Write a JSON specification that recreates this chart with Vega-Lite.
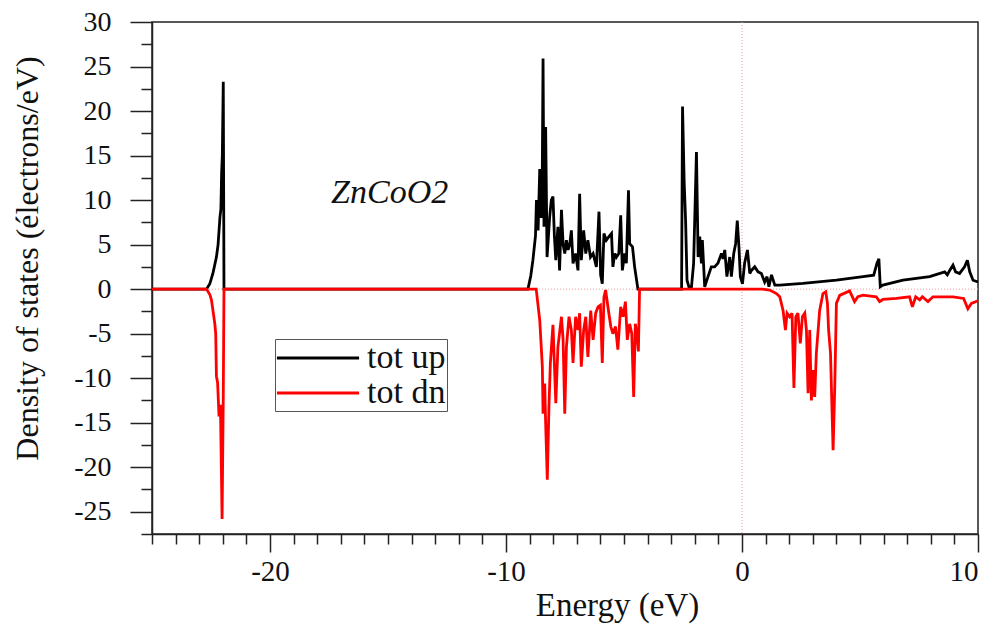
{
  "$schema": "https://vega.github.io/schema/vega-lite/v6.json",
  "width": 826,
  "height": 512,
  "autosize": {"type": "none"},
  "padding": {"left": 152, "top": 22, "right": 20, "bottom": 92},
  "background": "white",
  "config": {
    "font": "Liberation Serif",
    "view": {"stroke": "#222", "strokeWidth": 1.5},
    "axis": {
      "domainColor": "#222", "domainWidth": 1.5, "tickColor": "#222", "tickWidth": 1.5,
      "labelFont": "Liberation Serif", "labelFontSize": 28, "labelColor": "#111",
      "titleFont": "Liberation Serif", "titleFontSize": 31, "titleFontWeight": "normal", "titleColor": "#111",
      "grid": false
    },
    "legend": {
      "orient": "none", "legendX": 123, "legendY": 317,
      "strokeColor": "#555", "padding": 1,
      "symbolType": "M-2.49,0H2.49", "symbolSize": 1089, "symbolStrokeWidth": 3,
      "symbolOffset": 24, "labelOffset": 31,
      "labelFont": "Liberation Serif", "labelFontSize": 34, "labelColor": "#111",
      "rowPadding": 0
    }
  },
  "datasets": {
    "dos": [
      {"E": -25, "dos": 0, "spin": "tot up"},
      {"E": -22.69, "dos": 0, "spin": "tot up"},
      {"E": -22.55, "dos": 0.6, "spin": "tot up"},
      {"E": -22.42, "dos": 1.76, "spin": "tot up"},
      {"E": -22.27, "dos": 3.6, "spin": "tot up"},
      {"E": -22.2, "dos": 5, "spin": "tot up"},
      {"E": -22.12, "dos": 8.1, "spin": "tot up"},
      {"E": -22.08, "dos": 9, "spin": "tot up"},
      {"E": -22.05, "dos": 13, "spin": "tot up"},
      {"E": -22.02, "dos": 15, "spin": "tot up"},
      {"E": -21.98, "dos": 23.3, "spin": "tot up"},
      {"E": -21.95, "dos": 0, "spin": "tot up"},
      {"E": -9.07, "dos": 0, "spin": "tot up"},
      {"E": -8.95, "dos": 1.5, "spin": "tot up"},
      {"E": -8.86, "dos": 3.25, "spin": "tot up"},
      {"E": -8.75, "dos": 6, "spin": "tot up"},
      {"E": -8.71, "dos": 10, "spin": "tot up"},
      {"E": -8.64, "dos": 6.6, "spin": "tot up"},
      {"E": -8.57, "dos": 13.5, "spin": "tot up"},
      {"E": -8.51, "dos": 8, "spin": "tot up"},
      {"E": -8.47, "dos": 10, "spin": "tot up"},
      {"E": -8.43, "dos": 25.9, "spin": "tot up"},
      {"E": -8.39, "dos": 7, "spin": "tot up"},
      {"E": -8.32, "dos": 18.2, "spin": "tot up"},
      {"E": -8.26, "dos": 3.6, "spin": "tot up"},
      {"E": -8.2, "dos": 6, "spin": "tot up"},
      {"E": -8.15, "dos": 8.1, "spin": "tot up"},
      {"E": -8.08, "dos": 10, "spin": "tot up"},
      {"E": -8.01, "dos": 10.4, "spin": "tot up"},
      {"E": -7.95, "dos": 6, "spin": "tot up"},
      {"E": -7.89, "dos": 3.25, "spin": "tot up"},
      {"E": -7.8, "dos": 7, "spin": "tot up"},
      {"E": -7.73, "dos": 2.1, "spin": "tot up"},
      {"E": -7.65, "dos": 8.9, "spin": "tot up"},
      {"E": -7.58, "dos": 5, "spin": "tot up"},
      {"E": -7.51, "dos": 4, "spin": "tot up"},
      {"E": -7.44, "dos": 5.5, "spin": "tot up"},
      {"E": -7.37, "dos": 4.4, "spin": "tot up"},
      {"E": -7.3, "dos": 5, "spin": "tot up"},
      {"E": -7.23, "dos": 6.6, "spin": "tot up"},
      {"E": -7.16, "dos": 2.9, "spin": "tot up"},
      {"E": -7.05, "dos": 4, "spin": "tot up"},
      {"E": -6.95, "dos": 2.1, "spin": "tot up"},
      {"E": -6.88, "dos": 10.7, "spin": "tot up"},
      {"E": -6.81, "dos": 3.25, "spin": "tot up"},
      {"E": -6.71, "dos": 6.6, "spin": "tot up"},
      {"E": -6.62, "dos": 4, "spin": "tot up"},
      {"E": -6.53, "dos": 5.5, "spin": "tot up"},
      {"E": -6.42, "dos": 3.6, "spin": "tot up"},
      {"E": -6.31, "dos": 4, "spin": "tot up"},
      {"E": -6.17, "dos": 2.5, "spin": "tot up"},
      {"E": -6.06, "dos": 8.7, "spin": "tot up"},
      {"E": -5.99, "dos": 1.6, "spin": "tot up"},
      {"E": -5.92, "dos": 0.6, "spin": "tot up"},
      {"E": -5.85, "dos": 6.25, "spin": "tot up"},
      {"E": -5.75, "dos": 5.5, "spin": "tot up"},
      {"E": -5.64, "dos": 5.9, "spin": "tot up"},
      {"E": -5.53, "dos": 6.25, "spin": "tot up"},
      {"E": -5.47, "dos": 2.5, "spin": "tot up"},
      {"E": -5.39, "dos": 4, "spin": "tot up"},
      {"E": -5.32, "dos": 3.6, "spin": "tot up"},
      {"E": -5.22, "dos": 4, "spin": "tot up"},
      {"E": -5.14, "dos": 8.3, "spin": "tot up"},
      {"E": -5.07, "dos": 2.1, "spin": "tot up"},
      {"E": -4.97, "dos": 4, "spin": "tot up"},
      {"E": -4.9, "dos": 2.9, "spin": "tot up"},
      {"E": -4.81, "dos": 11.1, "spin": "tot up"},
      {"E": -4.76, "dos": 5.1, "spin": "tot up"},
      {"E": -4.64, "dos": 4.75, "spin": "tot up"},
      {"E": -4.55, "dos": 2.5, "spin": "tot up"},
      {"E": -4.41, "dos": 0, "spin": "tot up"},
      {"E": -2.56, "dos": 0, "spin": "tot up"},
      {"E": -2.52, "dos": 20.5, "spin": "tot up"},
      {"E": -2.45, "dos": 12, "spin": "tot up"},
      {"E": -2.39, "dos": 7.7, "spin": "tot up"},
      {"E": -2.33, "dos": 1, "spin": "tot up"},
      {"E": -2.25, "dos": 0.26, "spin": "tot up"},
      {"E": -2.14, "dos": 0.26, "spin": "tot up"},
      {"E": -2.05, "dos": 2.9, "spin": "tot up"},
      {"E": -1.93, "dos": 15.4, "spin": "tot up"},
      {"E": -1.86, "dos": 3.6, "spin": "tot up"},
      {"E": -1.79, "dos": 5.9, "spin": "tot up"},
      {"E": -1.72, "dos": 2.9, "spin": "tot up"},
      {"E": -1.68, "dos": 5.5, "spin": "tot up"},
      {"E": -1.58, "dos": 0.26, "spin": "tot up"},
      {"E": -1.44, "dos": 1.4, "spin": "tot up"},
      {"E": -1.3, "dos": 2.5, "spin": "tot up"},
      {"E": -1.16, "dos": 2.5, "spin": "tot up"},
      {"E": -1.02, "dos": 2.9, "spin": "tot up"},
      {"E": -0.87, "dos": 4, "spin": "tot up"},
      {"E": -0.8, "dos": 3.4, "spin": "tot up"},
      {"E": -0.73, "dos": 4.4, "spin": "tot up"},
      {"E": -0.64, "dos": 1.4, "spin": "tot up"},
      {"E": -0.52, "dos": 3.6, "spin": "tot up"},
      {"E": -0.45, "dos": 1.4, "spin": "tot up"},
      {"E": -0.35, "dos": 4, "spin": "tot up"},
      {"E": -0.27, "dos": 5.1, "spin": "tot up"},
      {"E": -0.2, "dos": 7.7, "spin": "tot up"},
      {"E": -0.13, "dos": 4.75, "spin": "tot up"},
      {"E": -0.07, "dos": 1.4, "spin": "tot up"},
      {"E": 0.02, "dos": 0.6, "spin": "tot up"},
      {"E": 0.11, "dos": 2.9, "spin": "tot up"},
      {"E": 0.23, "dos": 4.4, "spin": "tot up"},
      {"E": 0.33, "dos": 1.76, "spin": "tot up"},
      {"E": 0.4, "dos": 2.1, "spin": "tot up"},
      {"E": 0.54, "dos": 2.5, "spin": "tot up"},
      {"E": 0.68, "dos": 1.94, "spin": "tot up"},
      {"E": 0.82, "dos": 1.76, "spin": "tot up"},
      {"E": 0.96, "dos": 0.8, "spin": "tot up"},
      {"E": 1.06, "dos": 1.4, "spin": "tot up"},
      {"E": 1.14, "dos": 0.26, "spin": "tot up"},
      {"E": 1.25, "dos": 1.6, "spin": "tot up"},
      {"E": 1.39, "dos": 0.45, "spin": "tot up"},
      {"E": 1.6, "dos": 0.45, "spin": "tot up"},
      {"E": 2.58, "dos": 0.64, "spin": "tot up"},
      {"E": 4.0, "dos": 1.0, "spin": "tot up"},
      {"E": 5.13, "dos": 1.4, "spin": "tot up"},
      {"E": 5.58, "dos": 1.57, "spin": "tot up"},
      {"E": 5.72, "dos": 2.9, "spin": "tot up"},
      {"E": 5.8, "dos": 3.4, "spin": "tot up"},
      {"E": 5.86, "dos": 0.26, "spin": "tot up"},
      {"E": 5.97, "dos": 0.45, "spin": "tot up"},
      {"E": 6.82, "dos": 1.0, "spin": "tot up"},
      {"E": 7.95, "dos": 1.4, "spin": "tot up"},
      {"E": 8.59, "dos": 1.94, "spin": "tot up"},
      {"E": 8.7, "dos": 1.6, "spin": "tot up"},
      {"E": 8.8, "dos": 2.1, "spin": "tot up"},
      {"E": 8.94, "dos": 2.7, "spin": "tot up"},
      {"E": 9.05, "dos": 1.94, "spin": "tot up"},
      {"E": 9.22, "dos": 1.76, "spin": "tot up"},
      {"E": 9.43, "dos": 2.5, "spin": "tot up"},
      {"E": 9.55, "dos": 3.25, "spin": "tot up"},
      {"E": 9.65, "dos": 1.94, "spin": "tot up"},
      {"E": 9.79, "dos": 1.0, "spin": "tot up"},
      {"E": 10, "dos": 0.8, "spin": "tot up"},

      {"E": -25, "dos": 0, "spin": "tot dn"},
      {"E": -22.69, "dos": 0, "spin": "tot dn"},
      {"E": -22.55, "dos": -0.6, "spin": "tot dn"},
      {"E": -22.48, "dos": -1.23, "spin": "tot dn"},
      {"E": -22.34, "dos": -3.85, "spin": "tot dn"},
      {"E": -22.3, "dos": -5, "spin": "tot dn"},
      {"E": -22.27, "dos": -9.8, "spin": "tot dn"},
      {"E": -22.22, "dos": -10.5, "spin": "tot dn"},
      {"E": -22.16, "dos": -14.3, "spin": "tot dn"},
      {"E": -22.1, "dos": -13, "spin": "tot dn"},
      {"E": -22.03, "dos": -25.8, "spin": "tot dn"},
      {"E": -21.98, "dos": -12, "spin": "tot dn"},
      {"E": -21.95, "dos": 0, "spin": "tot dn"},
      {"E": -8.72, "dos": 0, "spin": "tot dn"},
      {"E": -8.57, "dos": -3.5, "spin": "tot dn"},
      {"E": -8.46, "dos": -8.7, "spin": "tot dn"},
      {"E": -8.43, "dos": -14, "spin": "tot dn"},
      {"E": -8.36, "dos": -10.6, "spin": "tot dn"},
      {"E": -8.32, "dos": -15.1, "spin": "tot dn"},
      {"E": -8.25, "dos": -21.4, "spin": "tot dn"},
      {"E": -8.18, "dos": -13.2, "spin": "tot dn"},
      {"E": -8.12, "dos": -8.3, "spin": "tot dn"},
      {"E": -8.01, "dos": -4, "spin": "tot dn"},
      {"E": -7.89, "dos": -12.8, "spin": "tot dn"},
      {"E": -7.8, "dos": -6.5, "spin": "tot dn"},
      {"E": -7.65, "dos": -3.1, "spin": "tot dn"},
      {"E": -7.58, "dos": -5.7, "spin": "tot dn"},
      {"E": -7.51, "dos": -14, "spin": "tot dn"},
      {"E": -7.44, "dos": -6.5, "spin": "tot dn"},
      {"E": -7.33, "dos": -3.1, "spin": "tot dn"},
      {"E": -7.23, "dos": -4.6, "spin": "tot dn"},
      {"E": -7.16, "dos": -8.3, "spin": "tot dn"},
      {"E": -7.05, "dos": -3.1, "spin": "tot dn"},
      {"E": -6.95, "dos": -4.6, "spin": "tot dn"},
      {"E": -6.88, "dos": -2.7, "spin": "tot dn"},
      {"E": -6.81, "dos": -8.7, "spin": "tot dn"},
      {"E": -6.71, "dos": -4.6, "spin": "tot dn"},
      {"E": -6.62, "dos": -3.1, "spin": "tot dn"},
      {"E": -6.53, "dos": -7.6, "spin": "tot dn"},
      {"E": -6.41, "dos": -2.4, "spin": "tot dn"},
      {"E": -6.31, "dos": -5.7, "spin": "tot dn"},
      {"E": -6.2, "dos": -2.7, "spin": "tot dn"},
      {"E": -6.1, "dos": -2, "spin": "tot dn"},
      {"E": -6, "dos": -1.8, "spin": "tot dn"},
      {"E": -5.92, "dos": -8.3, "spin": "tot dn"},
      {"E": -5.85, "dos": -0.9, "spin": "tot dn"},
      {"E": -5.78, "dos": -0.1, "spin": "tot dn"},
      {"E": -5.68, "dos": -2, "spin": "tot dn"},
      {"E": -5.56, "dos": -4.2, "spin": "tot dn"},
      {"E": -5.47, "dos": -5, "spin": "tot dn"},
      {"E": -5.36, "dos": -4.2, "spin": "tot dn"},
      {"E": -5.26, "dos": -6.8, "spin": "tot dn"},
      {"E": -5.14, "dos": -2, "spin": "tot dn"},
      {"E": -5.04, "dos": -3.1, "spin": "tot dn"},
      {"E": -4.94, "dos": -1.4, "spin": "tot dn"},
      {"E": -4.86, "dos": -5.7, "spin": "tot dn"},
      {"E": -4.76, "dos": -3.9, "spin": "tot dn"},
      {"E": -4.67, "dos": -5, "spin": "tot dn"},
      {"E": -4.59, "dos": -12.1, "spin": "tot dn"},
      {"E": -4.52, "dos": -3.9, "spin": "tot dn"},
      {"E": -4.45, "dos": -5, "spin": "tot dn"},
      {"E": -4.39, "dos": -7, "spin": "tot dn"},
      {"E": -4.34, "dos": 0, "spin": "tot dn"},
      {"E": 0.87, "dos": 0, "spin": "tot dn"},
      {"E": 1.17, "dos": -0.1, "spin": "tot dn"},
      {"E": 1.46, "dos": -0.5, "spin": "tot dn"},
      {"E": 1.6, "dos": -0.86, "spin": "tot dn"},
      {"E": 1.74, "dos": -2.4, "spin": "tot dn"},
      {"E": 1.84, "dos": -4.6, "spin": "tot dn"},
      {"E": 1.91, "dos": -2.7, "spin": "tot dn"},
      {"E": 2.02, "dos": -3.1, "spin": "tot dn"},
      {"E": 2.12, "dos": -2.7, "spin": "tot dn"},
      {"E": 2.2, "dos": -11.1, "spin": "tot dn"},
      {"E": 2.28, "dos": -3.1, "spin": "tot dn"},
      {"E": 2.37, "dos": -2.7, "spin": "tot dn"},
      {"E": 2.47, "dos": -6.1, "spin": "tot dn"},
      {"E": 2.56, "dos": -3.1, "spin": "tot dn"},
      {"E": 2.66, "dos": -2.7, "spin": "tot dn"},
      {"E": 2.73, "dos": -4.6, "spin": "tot dn"},
      {"E": 2.8, "dos": -11.7, "spin": "tot dn"},
      {"E": 2.87, "dos": -4.6, "spin": "tot dn"},
      {"E": 2.94, "dos": -12.5, "spin": "tot dn"},
      {"E": 3.01, "dos": -9.1, "spin": "tot dn"},
      {"E": 3.08, "dos": -12.1, "spin": "tot dn"},
      {"E": 3.15, "dos": -7.2, "spin": "tot dn"},
      {"E": 3.29, "dos": -2.4, "spin": "tot dn"},
      {"E": 3.43, "dos": -0.5, "spin": "tot dn"},
      {"E": 3.55, "dos": -0.3, "spin": "tot dn"},
      {"E": 3.62, "dos": -1.6, "spin": "tot dn"},
      {"E": 3.67, "dos": -4.6, "spin": "tot dn"},
      {"E": 3.75, "dos": -7.2, "spin": "tot dn"},
      {"E": 3.86, "dos": -18.1, "spin": "tot dn"},
      {"E": 3.93, "dos": -11, "spin": "tot dn"},
      {"E": 4.0, "dos": -1.6, "spin": "tot dn"},
      {"E": 4.14, "dos": -0.7, "spin": "tot dn"},
      {"E": 4.56, "dos": -0.2, "spin": "tot dn"},
      {"E": 4.77, "dos": -1.4, "spin": "tot dn"},
      {"E": 4.91, "dos": -0.86, "spin": "tot dn"},
      {"E": 5.13, "dos": -0.67, "spin": "tot dn"},
      {"E": 5.69, "dos": -0.86, "spin": "tot dn"},
      {"E": 5.83, "dos": -1.4, "spin": "tot dn"},
      {"E": 5.97, "dos": -1.16, "spin": "tot dn"},
      {"E": 6.54, "dos": -1.05, "spin": "tot dn"},
      {"E": 7.1, "dos": -0.86, "spin": "tot dn"},
      {"E": 7.22, "dos": -2, "spin": "tot dn"},
      {"E": 7.36, "dos": -0.86, "spin": "tot dn"},
      {"E": 7.53, "dos": -1.2, "spin": "tot dn"},
      {"E": 7.64, "dos": -0.86, "spin": "tot dn"},
      {"E": 7.88, "dos": -1.4, "spin": "tot dn"},
      {"E": 8.09, "dos": -0.86, "spin": "tot dn"},
      {"E": 8.94, "dos": -0.86, "spin": "tot dn"},
      {"E": 9.39, "dos": -1.05, "spin": "tot dn"},
      {"E": 9.57, "dos": -2.2, "spin": "tot dn"},
      {"E": 9.72, "dos": -1.6, "spin": "tot dn"},
      {"E": 10, "dos": -1.3, "spin": "tot dn"}
    ]
  },
  "data": {"name": "dos"},
  "resolve": {"axis": {"x": "independent", "y": "independent"}},
  "layer": [
    {
      "data": {"values": [{}]},
      "mark": {"type": "rule", "color": "#f29a9a", "strokeDash": [1, 2], "strokeWidth": 1},
      "encoding": {
        "y": {"datum": 0, "type": "quantitative",
          "scale": {"domain": [-27.5, 30], "nice": false, "zero": false},
          "axis": {"orient": "left", "values": [-27.5, -22.5, -17.5, -12.5, -7.5, -2.5, 2.5, 7.5, 12.5, 17.5, 22.5, 27.5], "tickSize": 11, "labels": false, "domain": false, "title": null}}
      }
    },
    {
      "data": {"values": [{}]},
      "mark": {"type": "rule", "color": "#f29a9a", "strokeDash": [1, 2], "strokeWidth": 1},
      "encoding": {
        "x": {"datum": 0, "type": "quantitative",
          "scale": {"domain": [-25, 10], "nice": false, "zero": false},
          "axis": {"orient": "bottom", "values": [-25, -24, -23, -22, -21, -19, -18, -17, -16, -15, -14, -13, -12, -11, -9, -8, -7, -6, -5, -4, -3, -2, -1, 1, 2, 3, 4, 5, 6, 7, 8, 9], "tickSize": 10, "labels": false, "domain": false, "title": null}}
      }
    },
    {
      "transform": [{"filter": "datum.spin === 'tot up'"}],
      "mark": {"type": "line", "strokeWidth": 2.8, "strokeJoin": "miter", "strokeMiterLimit": 3},
      "encoding": {
        "x": {"field": "E", "type": "quantitative",
          "scale": {"domain": [-25, 10], "nice": false, "zero": false},
          "axis": {"orient": "bottom", "values": [-20, -10, 0, 10], "tickSize": 18, "labelPadding": 5,
            "labelExpr": "datum.value + ''", "labelFont": "Liberation Serif", "labelFontSize": 29,
            "title": "Energy (eV)", "titleFont": "Liberation Serif", "titleFontSize": 33, "titlePadding": 3, "titleX": 465}},
        "y": {"field": "dos", "type": "quantitative",
          "scale": {"domain": [-27.5, 30], "nice": false, "zero": false},
          "axis": {"orient": "left", "values": [-25, -20, -15, -10, -5, 0, 5, 10, 15, 20, 25, 30], "tickSize": 22, "labelPadding": 19,
            "labelExpr": "datum.value + ''", "labelFont": "Liberation Serif", "labelFontSize": 28,
            "title": "Density of states (électrons/eV)", "titleFont": "Liberation Serif", "titleFontSize": 32, "titlePadding": 29, "titleY": 236}},
        "color": {"field": "spin", "type": "nominal",
          "scale": {"domain": ["tot up", "tot dn"], "range": ["#000000", "#ff0000"]},
          "legend": {"title": null, "labelFont": "Liberation Serif"}}
      }
    },
    {
      "transform": [{"filter": "datum.spin === 'tot dn'"}],
      "mark": {"type": "line", "strokeWidth": 2.8, "strokeJoin": "miter", "strokeMiterLimit": 3},
      "encoding": {
        "x": {"field": "E", "type": "quantitative", "axis": null},
        "y": {"field": "dos", "type": "quantitative", "axis": null},
        "color": {"field": "spin", "type": "nominal",
          "scale": {"domain": ["tot up", "tot dn"], "range": ["#000000", "#ff0000"]},
          "legend": {"title": null, "labelFont": "Liberation Serif"}}
      }
    },
    {
      "data": {"values": [{}]},
      "mark": {"type": "text", "font": "Liberation Serif", "fontStyle": "italic", "fontSize": 34, "color": "#111", "align": "center", "baseline": "middle"},
      "encoding": {
        "x": {"datum": -14.93, "type": "quantitative", "axis": null},
        "y": {"datum": 10.8, "type": "quantitative", "axis": null},
        "text": {"value": "ZnCoO2"}
      }
    }
  ]
}
